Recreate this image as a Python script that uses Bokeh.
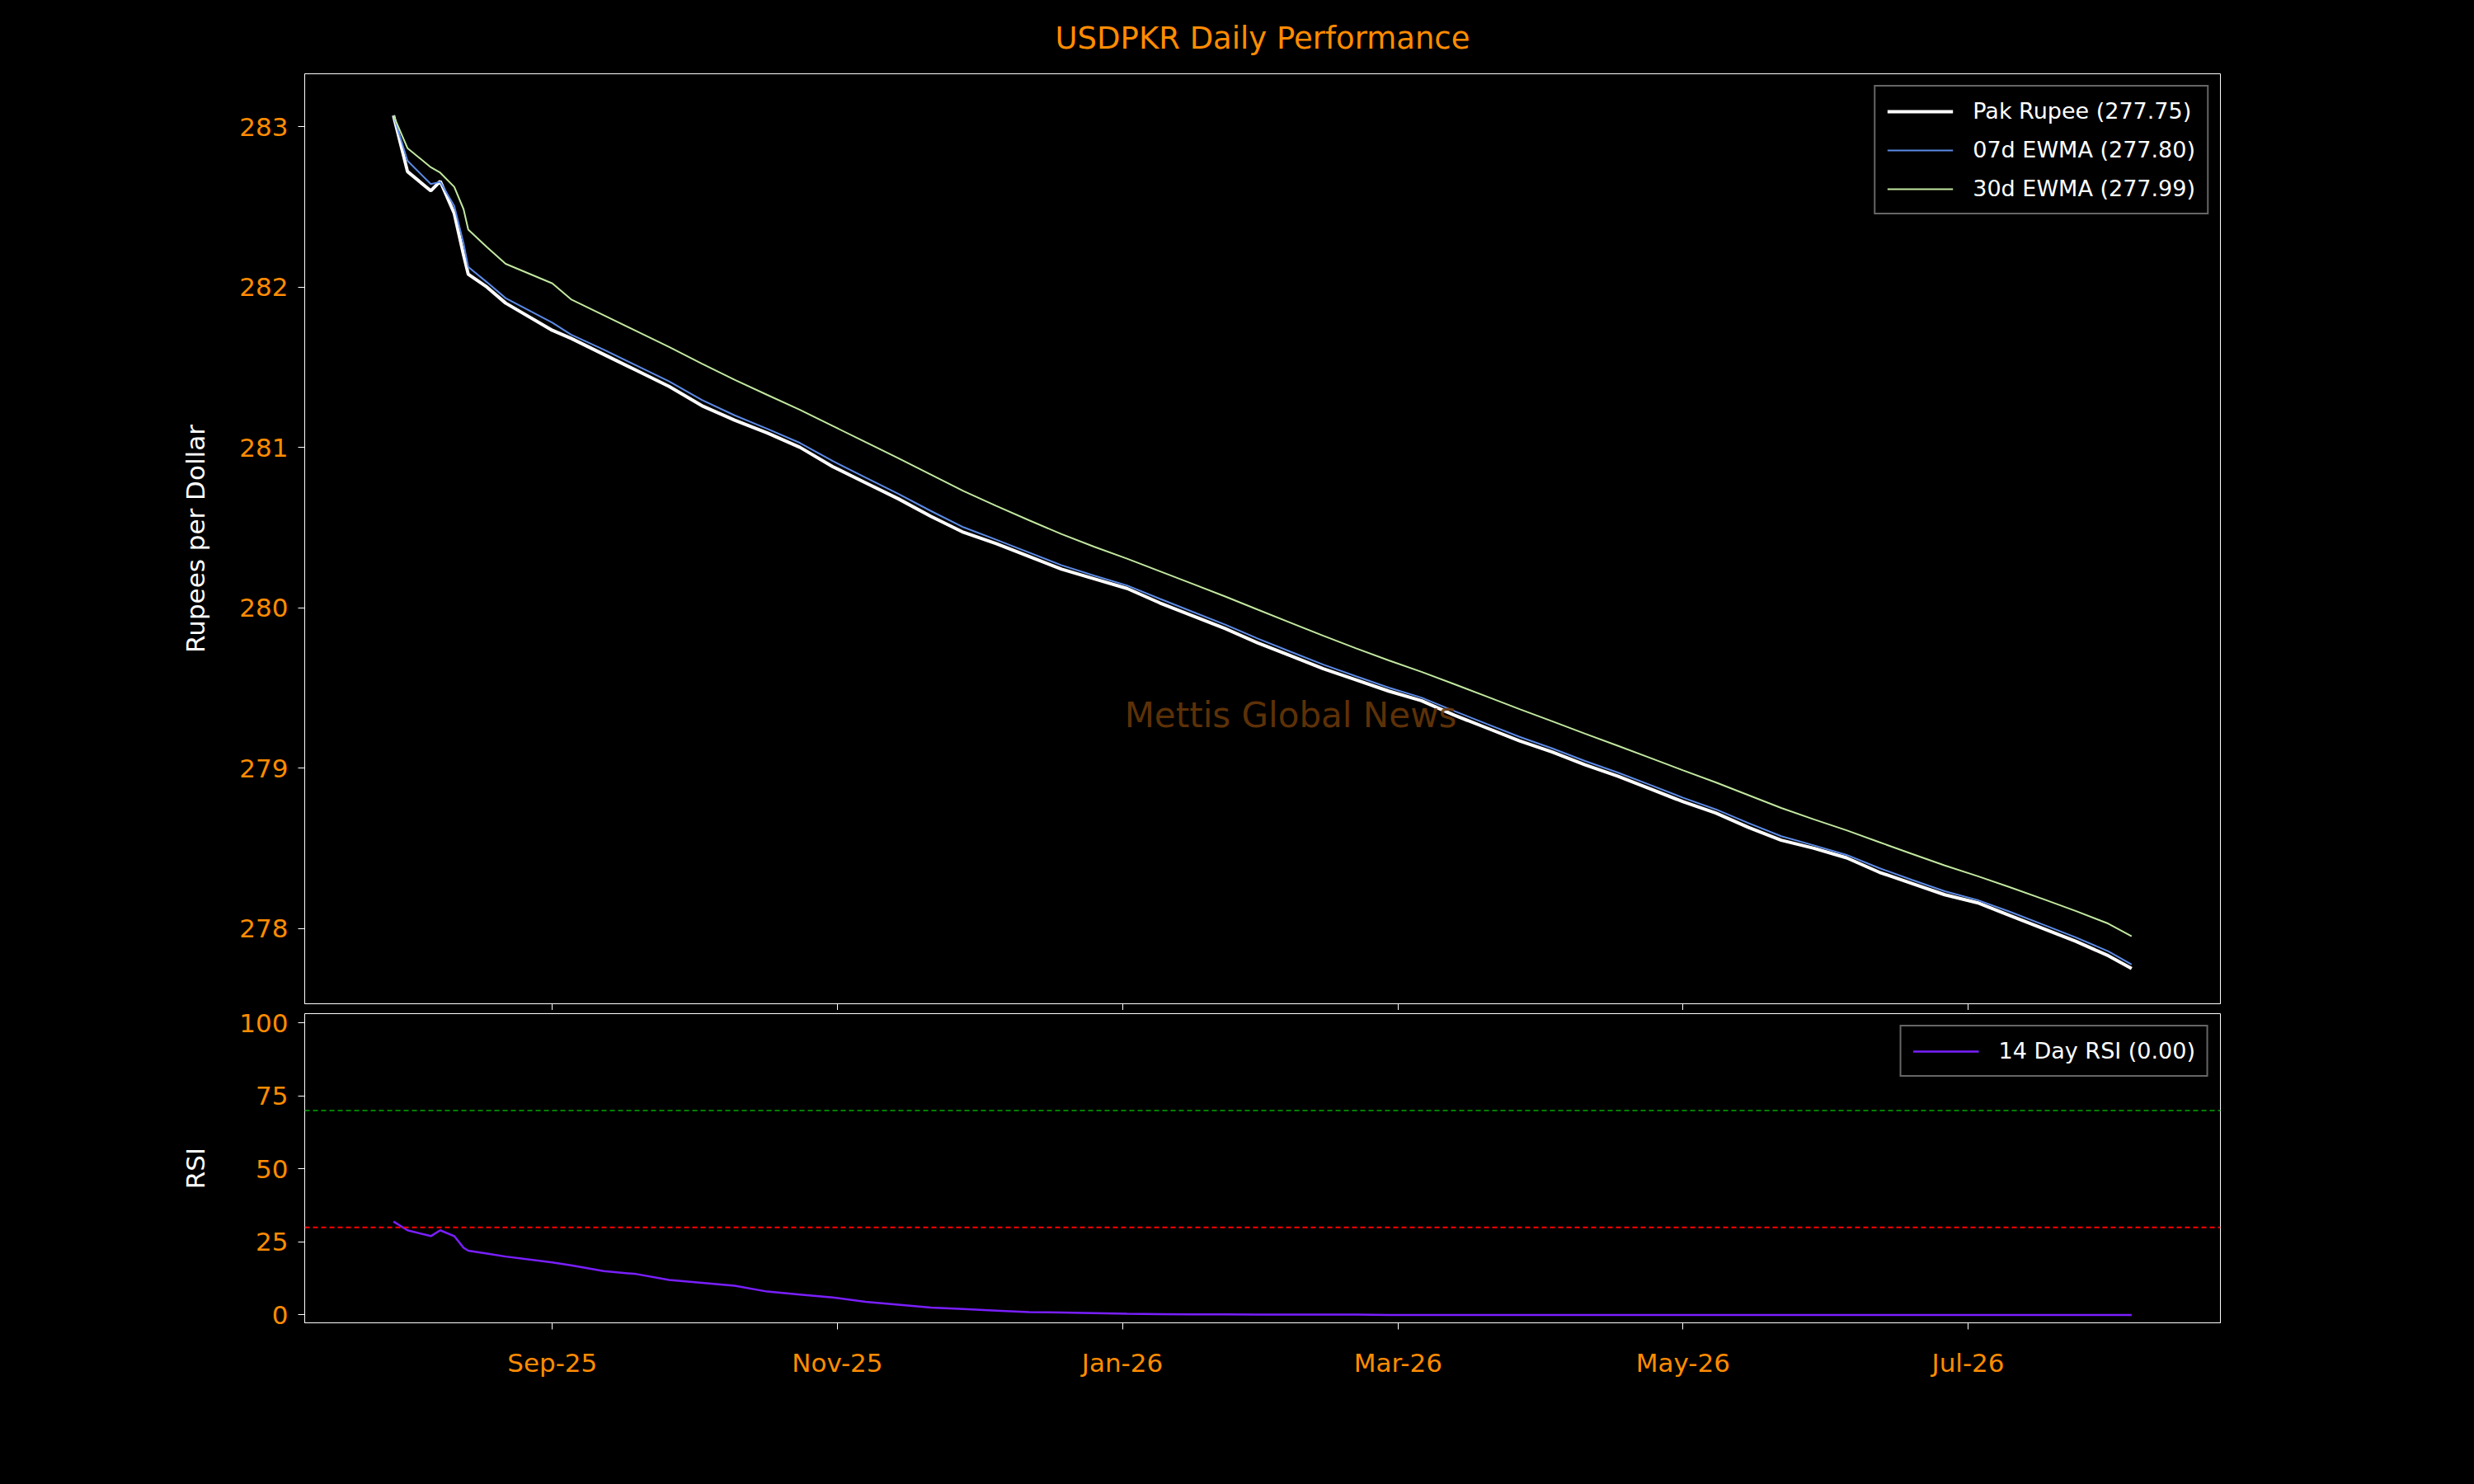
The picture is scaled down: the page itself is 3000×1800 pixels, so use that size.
import numpy as np
import pandas as pd
from bokeh.plotting import figure
from bokeh.layouts import column
from bokeh.models import (Range1d, FixedTicker, DatetimeTickFormatter, Span, Legend, LegendItem, Label,
                          Title, CustomJSTickFormatter)
from bokeh.embed import file_html
from bokeh.resources import INLINE

dates = ["2025-07-29","2025-08-01","2025-08-06","2025-08-08","2025-08-11","2025-08-13","2025-08-14","2025-08-18","2025-08-22",
"2025-09-01","2025-09-05","2025-09-12","2025-09-19","2025-09-26","2025-10-03","2025-10-10","2025-10-17","2025-10-24",
"2025-10-31","2025-11-07","2025-11-14","2025-11-21","2025-11-28","2025-12-05","2025-12-12","2025-12-19",
"2025-12-26","2026-01-02","2026-01-09","2026-01-16","2026-01-23","2026-01-30","2026-02-06","2026-02-13",
"2026-02-20","2026-02-27","2026-03-06","2026-03-13","2026-03-20","2026-03-27","2026-04-03","2026-04-10",
"2026-04-17","2026-04-24","2026-05-01","2026-05-08","2026-05-15","2026-05-22","2026-05-29","2026-06-05",
"2026-06-12","2026-06-19","2026-06-26","2026-07-03","2026-07-10","2026-07-17","2026-07-24","2026-07-31","2026-08-05"]
price = [283.07,282.72,282.60,282.66,282.46,282.20,282.08,282.00,281.90,
281.73,281.68,281.58,281.48,281.38,281.26,281.17,281.09,281.00,
280.88,280.78,280.68,280.57,280.47,280.40,280.32,280.24,
280.18,280.12,280.03,279.95,279.87,279.78,279.70,279.62,
279.55,279.48,279.42,279.33,279.25,279.17,279.10,279.02,
278.95,278.87,278.79,278.72,278.63,278.55,278.50,278.44,
278.35,278.28,278.21,278.16,278.08,278.00,277.92,277.83,277.75]
rsi = [32,29,27,29,27,23,22,21,20,
18,17,15,14,12,11,10,8,7,
6,4.5,3.5,2.5,2,1.5,1,0.8,
0.6,0.4,0.3,0.2,0.2,0.1,0.1,0.1,
0.1,0,0,0,0,0,0,0,
0,0,0,0,0,0,0,0,
0,0,0,0,0,0,0,0,0]

x = pd.to_datetime(dates)
s = pd.Series(price, index=x)
a7 = 1 - (1 - 2/8) ** 5
a30 = 1 - (1 - 2/31) ** 5
ew7 = s.ewm(alpha=a7, adjust=True).mean().values
ew30 = s.ewm(alpha=a30, adjust=True).mean().values
ew7_last, ew30_last = 277.80, 277.99  # as shown in the reference legend

ORANGE = "#ff8c00"
xr = Range1d(pd.Timestamp("2025-07-10"), pd.Timestamp("2026-08-24"))
ticks = [pd.Timestamp(d).value / 1e6 for d in ["2025-09-01","2025-11-01","2026-01-01","2026-03-01","2026-05-01","2026-07-01"]]

def style(p):
    p.background_fill_color = "black"
    p.border_fill_color = "black"
    p.outline_line_color = "white"
    p.grid.visible = False
    for ax in p.axis:
        ax.axis_line_color = "white"
        ax.major_tick_line_color = "white"
        ax.minor_tick_line_color = None
        ax.major_tick_out = 8
        ax.major_tick_in = 0
        ax.major_label_standoff = 12
        ax.major_label_text_color = ORANGE
        ax.major_label_text_font_size = "31px"
        ax.major_label_text_font = "DejaVu Sans"
        ax.axis_label_text_color = "white"
        ax.axis_label_text_font_size = "31px"
        ax.axis_label_text_font = "DejaVu Sans"
        ax.axis_label_text_font_style = "normal"
    p.yaxis.axis_label_standoff = 32
    p.xaxis.ticker = FixedTicker(ticks=ticks)
    p.xaxis.formatter = DatetimeTickFormatter(months="%b-%y", days="%b-%y", years="%b-%y")

p1 = figure(x_axis_type="datetime", x_range=xr, y_range=Range1d(277.53, 283.33),
            frame_width=2323, frame_height=1128, min_border_left=369, min_border_right=20,
            min_border_top=20, min_border_bottom=4, output_backend="svg", toolbar_location=None)
style(p1)
p1.add_layout(Title(text="USDPKR Daily Performance", align="center", text_color=ORANGE,
                    text_font_size="37px", text_font="DejaVu Sans", text_font_style="normal",
                    standoff=44), "above")
p1.title.offset = 0
p1.xaxis.formatter = CustomJSTickFormatter(code="return '';")
p1.xaxis.major_label_standoff = 0
p1.yaxis.axis_label = "Rupees per Dollar"
p1.yaxis.ticker = FixedTicker(ticks=[278, 279, 280, 281, 282, 283])
r1 = p1.line(x, price, color="white", line_width=4)
r2 = p1.line(x, ew7, color="#5b8ae6", line_width=2)
r3 = p1.line(x, ew30, color="#c2e8a0", line_width=2)
p1.add_layout(Label(x=pd.Timestamp("2026-02-06"), y=279.33, text="Mettis Global News", text_color="#6b3808",
                    text_alpha=0.9, text_font_size="42px", text_align="center", text_baseline="middle",
                    text_font="DejaVu Sans"))
lg = Legend(items=[LegendItem(label=f"Pak Rupee ({price[-1]:.2f})", renderers=[r1]),
                   LegendItem(label=f"07d EWMA ({ew7_last:.2f})", renderers=[r2]),
                   LegendItem(label=f"30d EWMA ({ew30_last:.2f})", renderers=[r3])],
            location="top_right", background_fill_color="black", background_fill_alpha=1,
            border_line_color="#cccccc", border_line_width=2, label_text_color="white",
            label_text_font_size="27px", label_text_font="DejaVu Sans", spacing=16, padding=14,
            glyph_width=80, label_standoff=24, margin=14)
p1.add_layout(lg)

p2 = figure(x_axis_type="datetime", x_range=xr, y_range=Range1d(-2.7, 103.2),
            frame_width=2323, frame_height=375, min_border_left=369, min_border_right=20,
            min_border_top=4, min_border_bottom=100, output_backend="svg", toolbar_location=None)
style(p2)
p2.xaxis.major_label_standoff = 22
p2.yaxis.axis_label = "RSI"
p2.yaxis.ticker = FixedTicker(ticks=[0, 25, 50, 75, 100])
p2.add_layout(Span(location=70, dimension="width", line_color="green", line_dash="6 4", line_width=2))
p2.add_layout(Span(location=30, dimension="width", line_color="red", line_dash="6 4", line_width=2))
r4 = p2.line(x, rsi, color="#7a1fff", line_width=2.5)
lg2 = Legend(items=[LegendItem(label=f"14 Day RSI ({rsi[-1]:.2f})", renderers=[r4])],
             location="top_right", background_fill_color="black", background_fill_alpha=1,
             border_line_color="#cccccc", border_line_width=2, label_text_color="white",
             label_text_font_size="27px", label_text_font="DejaVu Sans", padding=14,
             glyph_width=80, label_standoff=24, margin=14)
p2.add_layout(lg2)

layout = column(p1, p2, spacing=0, background="black")
html = file_html(layout, INLINE)
html = html.replace("<body>", "<body style=\"background:black\">")
open("out.html", "w").write(html)
